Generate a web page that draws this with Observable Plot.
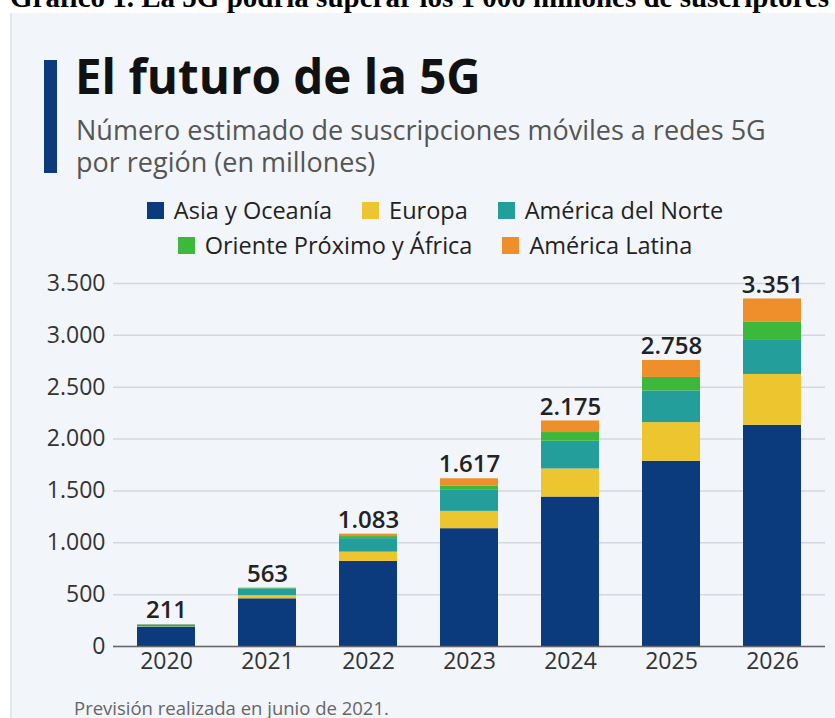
<!DOCTYPE html>
<html><head><meta charset="utf-8">
<script src="https://cdn.jsdelivr.net/npm/d3@7"></script>
<script src="https://cdn.jsdelivr.net/npm/@observablehq/plot@0.6"></script>
<style>
body{margin:0;background:#fff;width:835px;height:718px;overflow:hidden;position:relative;font-family:"Open Sans",sans-serif;}
#hdr{position:absolute;left:10px;top:-19px;font:bold 29px "Liberation Serif",serif;white-space:nowrap;color:#000}
#panel{position:absolute;left:10px;top:13px;width:825px;height:705px;background:#f2f5f9;border-left:2px solid #e3e7ed}
#accent{position:absolute;left:44px;top:60px;width:13px;height:113px;background:#0b3a7d}
#title{position:absolute;left:75px;top:46px;font-weight:700;font-size:47.5px;line-height:60px;color:#111;white-space:nowrap}
#sub{position:absolute;left:76px;top:114px;font-size:27px;line-height:32px;color:#555;white-space:nowrap}
.lrow{position:absolute;left:0;width:870px;display:flex;justify-content:center;gap:30px;font-size:23.5px;color:#222;line-height:30px}
.li{display:flex;align-items:center;gap:10px;white-space:nowrap}
.sw{width:17px;height:17px;display:inline-block}
#chart{position:absolute;left:0;top:262px}
#cap{position:absolute;left:74px;top:695px;font-size:18.5px;color:#666;white-space:nowrap}
</style></head>
<body>
<div id="hdr">Gráfico 1. La 5G podría superar los 1 000 millones de suscriptores</div>
<div id="panel"></div>
<div id="accent"></div>
<div id="title">El futuro de la 5G</div>
<div id="sub">Número estimado de suscripciones móviles a redes 5G<br>por región (en millones)</div>
<div class="lrow" id="row1" style="top:195px"></div>
<div class="lrow" id="row2" style="top:230px"></div>
<div id="chart"></div>
<div id="cap">Previsión realizada en junio de 2021.</div>
<script>
const years = ["2020","2021","2022","2023","2024","2025","2026"];
const regions = ["Asia y Oceanía","Europa","América del Norte","Oriente Próximo y África","América Latina"];
const colors = ["#0b3a7d","#ecc52f","#239e9b","#3cb93a","#ef8f2b"];
const asia    = [185, 460, 820, 1136, 1441, 1786, 2133];
const europa  = [4, 30, 90, 167, 271, 373, 490];
const norte   = [18, 65, 130, 203, 267, 305, 328];
const oriente = [2, 5, 20, 42, 84, 130, 179];
const latina  = [2, 3, 23, 69, 112, 164, 221];
const totals  = [211, 563, 1083, 1617, 2175, 2758, 3351];
const yTicks  = [0, 500, 1000, 1500, 2000, 2500, 3000, 3500];

const series = [asia, europa, norte, oriente, latina];
const data = [];
years.forEach((yr, i) => regions.forEach((r, k) => data.push({year: yr, region: r, value: series[k][i]})));
const totalData = years.map((yr, i) => ({year: yr, total: totals[i]}));

const fmt = d3.formatLocale({decimal: ",", thousands: ".", grouping: [3], currency: ["", "€"]}).format(",d");

// legend
const rows = [[0,1,2],[3,4]];
rows.forEach((idx, ri) => {
  const row = document.getElementById(ri === 0 ? "row1" : "row2");
  idx.forEach(k => {
    const it = document.createElement("div"); it.className = "li";
    const sw = document.createElement("span"); sw.className = "sw"; sw.style.background = colors[k];
    const t = document.createElement("span"); t.textContent = regions[k];
    it.appendChild(sw); it.appendChild(t); row.appendChild(it);
  });
});

const chart = Plot.plot({
  width: 835, height: 424,
  marginLeft: 113, marginRight: 10, marginTop: 21, marginBottom: 40,
  style: {background: "transparent", fontFamily: "Open Sans", color: "#333", overflow: "visible"},
  x: {domain: years, paddingInner: 0.43, paddingOuter: 0.215, label: null},
  y: {domain: [0, 3500], label: null},
  color: {domain: regions, range: colors},
  marks: [
    Plot.gridY(yTicks, {stroke: "#d3d8de", strokeOpacity: 1, strokeWidth: 1.5}),
    Plot.axisY(yTicks, {tickSize: 0, tickPadding: 8, tickFormat: fmt, fontSize: 23, fill: "#333", label: null}),
    Plot.axisX({tickSize: 0, tickPadding: 6, fontSize: 23, fill: "#333", label: null}),
    Plot.barY(data, {x: "year", y: "value", fill: "region"}),
    Plot.ruleY([0], {stroke: "#666", strokeWidth: 1.5}),
    Plot.text(totalData, {x: "year", y: "total", text: d => fmt(d.total), dy: -14, fontWeight: 600, fontSize: 24, fill: "#222"})
  ]
});
document.getElementById("chart").appendChild(chart);
</script>
</body></html>
